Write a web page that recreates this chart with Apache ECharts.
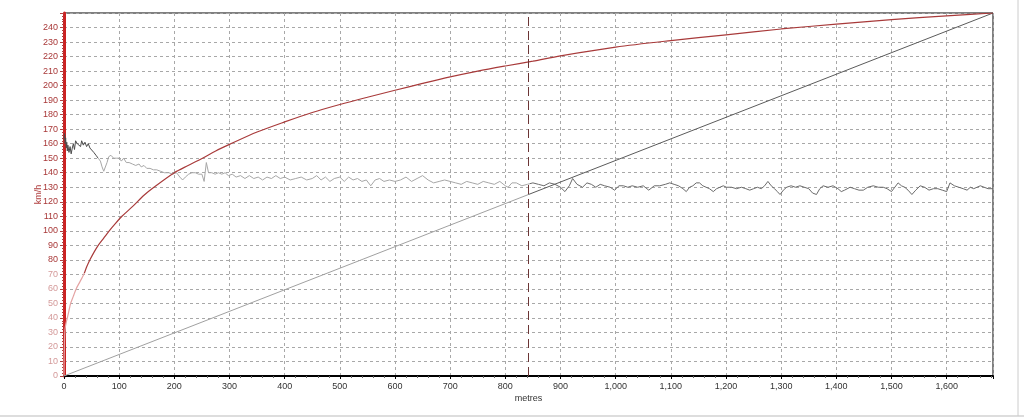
<!DOCTYPE html>
<html>
<head>
<meta charset="utf-8">
<script src="https://cdn.jsdelivr.net/npm/echarts@6/dist/echarts.min.js"></script>
<style>
html,body{margin:0;padding:0;background:#fff;}
#c{width:1024px;height:417px;}
</style>
</head>
<body>
<div id="c"></div>
<script>
// Speed (km/h) vs distance (metres)
const speedDist = [0,0.3,0.7,1.4,3,6,9,12,17,22,29,36,41,47,54,62,72,82,93,105,125,145,163,200,225,251,275,300,350,400,450,500,550,600,650,700,750,800,850,900,1000,1100,1200,1300,1400,1500,1600,1684];
const speedVals = [0,12,20,30,35,40,45,50,55,60,65,70,75,80,85,90,95,100,105,110,117,124.5,130,140,145,150,155,159.5,168,175,181.5,187,192,196.8,201.5,206,210,213.5,216.8,220.5,226.5,231,235,239,242.3,245.5,248,250];

// Noisy trace
const noiseDist = [0,1,2,3,4,5,6,7,9,11,13,15,17,19,21,24,27,30,32,35,38,41,44,47,50,54,58,62,66,69,72,75,78,81,85,90,95,100,104,108,113,118,124,130,136,140,145,150,156,162,168,175,182,190,197,204,210,215,220,226,232,238,244,250,254,258,262,268,274,280,286,292,298,305,312,320,328,336,344,352,360,368,376,384,392,400,410,420,430,440,450,458,466,474,482,490,500,508,516,524,532,540,548,556,564,572,580,590,600,610,620,630,640,650,660,670,680,690,700,710,720,730,740,750,760,770,780,790,800,805,812,820,830,840,850,860,870,880,890,900,908,916,922,930,940,948,956,964,972,980,990,998,1006,1014,1022,1030,1040,1050,1060,1070,1080,1090,1098,1106,1114,1122,1128,1134,1140,1146,1152,1158,1164,1170,1177,1183,1189,1195,1201,1210,1219,1228,1236,1243,1250,1257,1264,1270,1276,1282,1288,1293,1298,1304,1310,1318,1326,1334,1342,1350,1357,1364,1370,1376,1385,1394,1403,1409,1415,1425,1433,1441,1449,1457,1467,1476,1485,1492,1500,1506,1512,1518,1524,1530,1537,1544,1552,1560,1568,1576,1584,1592,1600,1606,1614,1622,1630,1637,1643,1649,1655,1661,1668,1675,1684];
const noiseVals = [163,167,160,164,157,161,155,159,154,158,153,157,160,156,162,160,161,158,162,159,161,158,160,157,156,154,152,150,148,144,141,142,147,151,152,150,150,150,148,150,147,147,146,145,146,144,145,143,143,142,142,141,140,140,139,140,137,135,137,139,140,140,139,139,134,147,140,140,139,140,139,140,138,139,137,138,136,138,136,137,135,137,136,138,136,137,135,136,137,135,136,138,135,137,134,136,137,134,137,135,136,134,135,131,135,136,134,135,134,135,137,134,136,138,135,133,134,135,134,133,132,134,133,132,134,133,132,134,131,130,133,133,131,132,133,132,131,133,132,130,127,131,136,132,130,133,132,130,132,131,130,128,131,131,130,131,130,131,128,131,131,132,133,132,131,129,127,130,131,133,133,131,130,129,127,129,130,131,130,130,129,130,129,128,129,130,129,131,134,131,129,127,125,128,130,131,130,131,130,129,126,125,129,131,130,131,129,127,128,130,129,128,128,130,131,130,130,129,127,130,133,131,130,128,125,128,131,130,128,129,129,128,127,133,131,130,129,128,130,129,130,131,130,129,129];

// Straight reference line
const refDist = [0,1684];
const refVals = [0,250];

const cursorDist = [842];
const xMax = 1684, yMax = 250;

const zip = (a,b) => a.map((d,i)=>[d,b[i]]);
const fmt = v => String(v).replace(/\B(?=(\d{3})+(?!\d))/g, ',');

// colour bands (style only)
const grad = (dir, stops) => new echarts.graphic.LinearGradient(dir[0],dir[1],dir[2],dir[3], stops);
const redStyle = grad([0,0,0,1],[
  {offset:0,color:'#a83a3a'},{offset:0.712,color:'#a83a3a'},
  {offset:0.712,color:'#e4a2a2'},{offset:1,color:'#e4a2a2'}]);
const noiseStyle = grad([0,0,1,0],[
  {offset:0,color:'#4a4a4a'},{offset:65/xMax,color:'#4a4a4a'},
  {offset:65/xMax,color:'#a6a6a6'},{offset:845/xMax,color:'#a6a6a6'},
  {offset:845/xMax,color:'#6a6a6a'},{offset:1,color:'#6a6a6a'}]);
const refStyle = grad([0,0,1,0],[
  {offset:0,color:'#a0a0a0'},{offset:0.5,color:'#a0a0a0'},
  {offset:0.5,color:'#5a5a5a'},{offset:1,color:'#5a5a5a'}]);

const FONT = 'Liberation Sans';
const chart = echarts.init(document.getElementById('c'), null, {renderer:'canvas'});
chart.setOption({
  animation:false,
  backgroundColor:'#fff',
  grid:{left:64,right:31,top:13,bottom:41,show:true,borderColor:'#000',borderWidth:1,backgroundColor:'#fff'},
  xAxis:{
    type:'value',min:0,max:xMax,interval:100,
    name:'metres',nameLocation:'middle',nameGap:18,nameMoveOverlap:false,
    nameTextStyle:{fontFamily:FONT,fontSize:9,color:'#333'},
    axisLine:{show:true,onZero:false,lineStyle:{color:'#000',width:2}},
    axisTick:{show:true,length:3,lineStyle:{color:'#000'}},
    minorTick:{show:true,splitNumber:5,length:2,lineStyle:{color:'#666'}},
    axisLabel:{showMaxLabel:false,margin:6,fontFamily:FONT,fontSize:9,color:'#333',formatter:v=>fmt(v)},
    splitLine:{show:true,lineStyle:{color:'#a8a8a8',type:[3,3],width:1}}
  },
  yAxis:{
    type:'value',min:0,max:yMax,interval:10,
    name:'km/h',nameLocation:'middle',nameGap:21,nameRotate:90,nameMoveOverlap:false,
    nameTextStyle:{fontFamily:FONT,fontSize:9,color:'#b04040'},
    axisLine:{show:true,lineStyle:{color:'#cc2222',width:3}},
    axisTick:{show:true,length:4,lineStyle:{color:'#b04040'}},
    minorTick:{show:true,splitNumber:5,length:2,lineStyle:{color:'#b04040'}},
    axisLabel:{showMaxLabel:false,margin:6,fontFamily:FONT,fontSize:9,
      color:v=> (Number(v) < 75 ? '#d49a9a' : '#a83838')},
    splitLine:{show:true,lineStyle:{color:'#a8a8a8',type:[3,3],width:1}}
  },
  series:[
    {type:'line',data:zip(speedDist,speedVals),smooth:0.3,showSymbol:false,lineStyle:{width:1.2,color:redStyle},z:4},
    {type:'line',data:zip(noiseDist,noiseVals),showSymbol:false,lineStyle:{width:1,color:noiseStyle},z:3},
    {type:'line',data:zip(refDist,refVals),showSymbol:false,lineStyle:{width:1,color:refStyle},z:2,
      markLine:{silent:true,symbol:['none','none'],animation:false,label:{show:false},
        lineStyle:{color:'#6b3535',type:[9,5],width:1},
        data:cursorDist.map(d=>({xAxis:d}))}}
  ],
  graphic:[
    {type:'line',shape:{x1:0,y1:416,x2:1024,y2:416},style:{stroke:'#bbbbbb',lineWidth:1}},
    {type:'line',shape:{x1:1018,y1:0,x2:1018,y2:416},style:{stroke:'#cccccc',lineWidth:1}}
  ]
});
</script>
</body>
</html>
